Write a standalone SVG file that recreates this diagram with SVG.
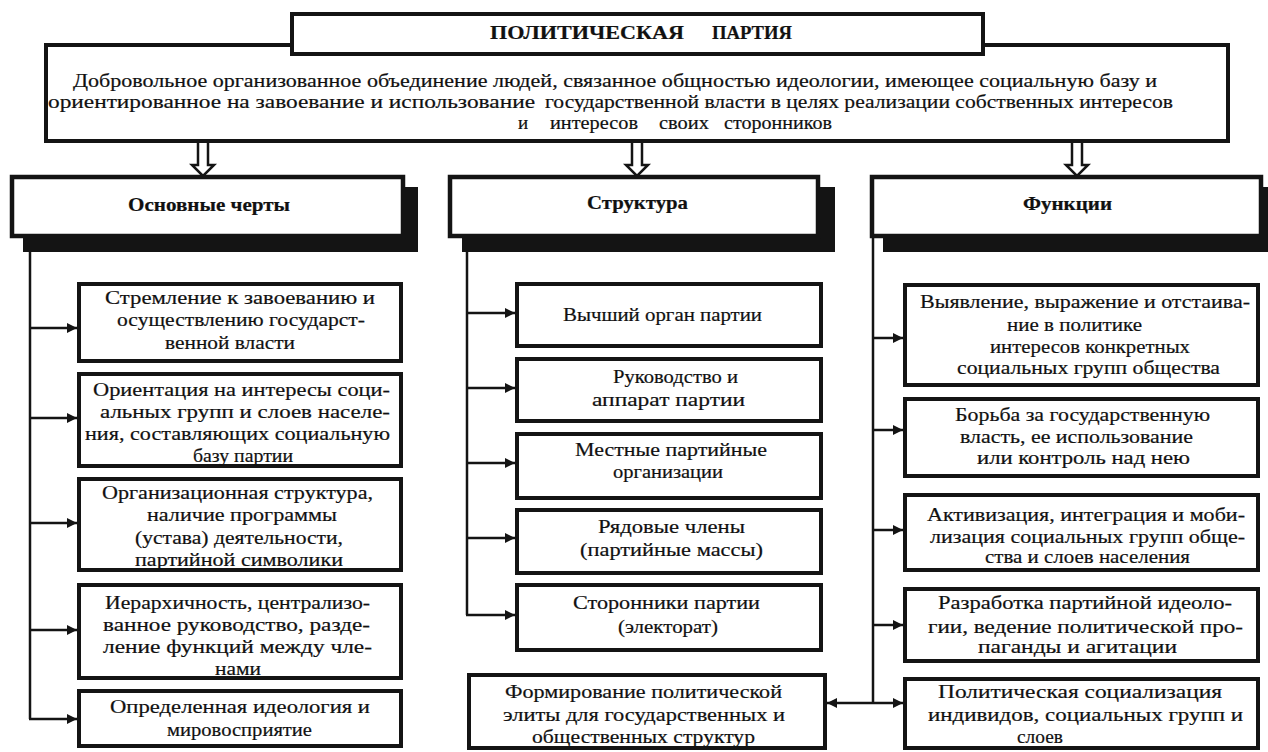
<svg xmlns="http://www.w3.org/2000/svg" width="1268" height="752" viewBox="0 0 1268 752">
<style>
.box{fill:#fff;stroke:#141414;stroke-width:4}
.hdr{fill:#fff;stroke:#141414;stroke-width:4.5}
.sh{fill:#141414}
.t{font-family:"Liberation Serif","Times New Roman",serif;font-size:19px;fill:#111;stroke:#111;stroke-width:0.2}
.b{font-weight:bold;font-size:18px}
.c{fill:none;stroke:#141414;stroke-width:2.5}
.da{fill:#fff;stroke:#141414;stroke-width:2.5;stroke-linejoin:miter}
</style>
<defs>
<marker id="ah" viewBox="0 0 10 10" refX="10" refY="5" markerWidth="11" markerHeight="10" markerUnits="userSpaceOnUse" orient="auto-start-reverse">
<path d="M0,0 L10,5 L0,10 z" fill="#141414"/>
</marker>
</defs>
<rect width="1268" height="752" fill="#fff"/>

<g id="definition">
<rect class="box" x="46" y="45" width="1182" height="96"/>
<text class="t" x="73" y="87" textLength="1084" lengthAdjust="spacingAndGlyphs">Добровольное организованное объединение людей, связанное общностью идеологии, имеющее социальную базу и</text>
<text class="t" x="48" y="108" textLength="487" lengthAdjust="spacingAndGlyphs">ориентированное на завоевание и использование</text>
<text class="t" x="545" y="108" textLength="628" lengthAdjust="spacingAndGlyphs">государственной власти в целях реализации собственных интересов</text>
<text class="t" x="518" y="129">и</text>
<text class="t" x="550" y="129" textLength="88" lengthAdjust="spacingAndGlyphs">интересов</text>
<text class="t" x="659" y="129" textLength="50" lengthAdjust="spacingAndGlyphs">своих</text>
<text class="t" x="724" y="129" textLength="108" lengthAdjust="spacingAndGlyphs">сторонников</text>
</g>
<g id="title">
<rect class="box" x="292" y="14" width="691" height="40"/>
<text class="t b" x="490" y="39" textLength="194" lengthAdjust="spacingAndGlyphs">ПОЛИТИЧЕСКАЯ</text>
<text class="t b" x="712" y="39" textLength="80" lengthAdjust="spacingAndGlyphs">ПАРТИЯ</text>
</g>

<g id="connectors">
<path class="da" d="M198,143 V165 H192 L203,176 L214,165 H208 V143"/>
<path class="da" d="M632,143 V165 H626 L637,176 L648,165 H642 V143"/>
<path class="da" d="M1072,143 V165 H1066 L1077,176 L1088,165 H1082 V143"/>
<path class="c" d="M30,250 V719"/>
<path class="c" d="M467,250 V615"/>
<path class="c" d="M873,238 V703"/>
<line class="c" x1="30" y1="328" x2="77" y2="328" marker-end="url(#ah)"/>
<line class="c" x1="30" y1="418" x2="77" y2="418" marker-end="url(#ah)"/>
<line class="c" x1="30" y1="523" x2="77" y2="523" marker-end="url(#ah)"/>
<line class="c" x1="30" y1="630" x2="77" y2="630" marker-end="url(#ah)"/>
<line class="c" x1="29" y1="719" x2="77" y2="719" marker-end="url(#ah)"/>
<line class="c" x1="467" y1="313" x2="515" y2="313" marker-end="url(#ah)"/>
<line class="c" x1="467" y1="388" x2="515" y2="388" marker-end="url(#ah)"/>
<line class="c" x1="467" y1="463" x2="515" y2="463" marker-end="url(#ah)"/>
<line class="c" x1="467" y1="538" x2="515" y2="538" marker-end="url(#ah)"/>
<line class="c" x1="466" y1="615" x2="515" y2="615" marker-end="url(#ah)"/>
<line class="c" x1="873" y1="338" x2="903" y2="338" marker-end="url(#ah)"/>
<line class="c" x1="873" y1="430" x2="903" y2="430" marker-end="url(#ah)"/>
<line class="c" x1="873" y1="530" x2="903" y2="530" marker-end="url(#ah)"/>
<line class="c" x1="873" y1="625" x2="903" y2="625" marker-end="url(#ah)"/>
<line class="c" x1="827" y1="703" x2="903" y2="703" marker-start="url(#ah)" marker-end="url(#ah)"/>
</g>

<g id="hdr-features">
<rect class="sh" x="23" y="187" width="395" height="65"/>
<rect class="hdr" x="12" y="177" width="391" height="59"/>
<text class="t b" x="128" y="211" textLength="162" lengthAdjust="spacingAndGlyphs">Основные черты</text>
</g>
<g id="hdr-structure">
<rect class="sh" x="462" y="187" width="373" height="65"/>
<rect class="hdr" x="450" y="177" width="368" height="59"/>
<text class="t b" x="587" y="209" textLength="101" lengthAdjust="spacingAndGlyphs">Структура</text>
</g>
<g id="hdr-functions">
<rect class="sh" x="883" y="187" width="395" height="65"/>
<rect class="hdr" x="872" y="177" width="389" height="59"/>
<text class="t b" x="1023" y="210" textLength="89" lengthAdjust="spacingAndGlyphs">Функции</text>
</g>

<g id="f1">
<rect class="box" x="79" y="284" width="322" height="77"/>
<text class="t" x="105" y="304" textLength="270" lengthAdjust="spacingAndGlyphs">Стремление к завоеванию и</text>
<text class="t" x="117" y="326" textLength="248" lengthAdjust="spacingAndGlyphs">осуществлению государст-</text>
<text class="t" x="165" y="349" textLength="130" lengthAdjust="spacingAndGlyphs">венной власти</text>
</g>
<g id="f2">
<rect class="box" x="79" y="374" width="322" height="92"/>
<text class="t" x="93" y="396" textLength="297" lengthAdjust="spacingAndGlyphs">Ориентация на интересы соци-</text>
<text class="t" x="100" y="418" textLength="290" lengthAdjust="spacingAndGlyphs">альных групп и слоев населе-</text>
<text class="t" x="85" y="440" textLength="305" lengthAdjust="spacingAndGlyphs">ния, составляющих социальную</text>
<text class="t" x="193" y="462" textLength="100" lengthAdjust="spacingAndGlyphs">базу партии</text>
</g>
<g id="f3">
<rect class="box" x="79" y="479" width="322" height="91"/>
<text class="t" x="102" y="499" textLength="271" lengthAdjust="spacingAndGlyphs">Организационная структура,</text>
<text class="t" x="147" y="521" textLength="190" lengthAdjust="spacingAndGlyphs">наличие программы</text>
<text class="t" x="135" y="544" textLength="208" lengthAdjust="spacingAndGlyphs">(устава) деятельности,</text>
<text class="t" x="135" y="566" textLength="208" lengthAdjust="spacingAndGlyphs">партийной символики</text>
</g>
<g id="f4">
<rect class="box" x="79" y="585" width="322" height="93"/>
<text class="t" x="105" y="609" textLength="265" lengthAdjust="spacingAndGlyphs">Иерархичность, централизо-</text>
<text class="t" x="103" y="631" textLength="267" lengthAdjust="spacingAndGlyphs">ванное руководство, разде-</text>
<text class="t" x="103" y="653" textLength="269" lengthAdjust="spacingAndGlyphs">ление функций между чле-</text>
<text class="t" x="215" y="675" textLength="46" lengthAdjust="spacingAndGlyphs">нами</text>
</g>
<g id="f5">
<rect class="box" x="79" y="691" width="322" height="55"/>
<text class="t" x="110" y="713" textLength="260" lengthAdjust="spacingAndGlyphs">Определенная идеология и</text>
<text class="t" x="167" y="736" textLength="145" lengthAdjust="spacingAndGlyphs">мировосприятие</text>
</g>

<g id="s1">
<rect class="box" x="517" y="284" width="304" height="62"/>
<text class="t" x="563" y="321" textLength="199" lengthAdjust="spacingAndGlyphs">Вычший орган партии</text>
</g>
<g id="s2">
<rect class="box" x="517" y="359" width="304" height="62"/>
<text class="t" x="613" y="383" textLength="125" lengthAdjust="spacingAndGlyphs">Руководство и</text>
<text class="t" x="592" y="406" textLength="153" lengthAdjust="spacingAndGlyphs">аппарат партии</text>
</g>
<g id="s3">
<rect class="box" x="517" y="434" width="304" height="64"/>
<text class="t" x="575" y="456" textLength="192" lengthAdjust="spacingAndGlyphs">Местные партийные</text>
<text class="t" x="613" y="478" textLength="110" lengthAdjust="spacingAndGlyphs">организации</text>
</g>
<g id="s4">
<rect class="box" x="517" y="510" width="304" height="63"/>
<text class="t" x="598" y="533" textLength="147" lengthAdjust="spacingAndGlyphs">Рядовые члены</text>
<text class="t" x="580" y="556" textLength="183" lengthAdjust="spacingAndGlyphs">(партийные массы)</text>
</g>
<g id="s5">
<rect class="box" x="517" y="585" width="304" height="65"/>
<text class="t" x="573" y="609" textLength="187" lengthAdjust="spacingAndGlyphs">Сторонники партии</text>
<text class="t" x="618" y="633" textLength="100" lengthAdjust="spacingAndGlyphs">(электорат)</text>
</g>
<g id="elite">
<rect class="box" x="469" y="675" width="356" height="73"/>
<text class="t" x="505" y="698" textLength="277" lengthAdjust="spacingAndGlyphs">Формирование политической</text>
<text class="t" x="503" y="721" textLength="282" lengthAdjust="spacingAndGlyphs">элиты для государственных и</text>
<text class="t" x="532" y="743" textLength="223" lengthAdjust="spacingAndGlyphs">общественных структур</text>
</g>

<g id="r1">
<rect class="box" x="905" y="285" width="353" height="100"/>
<text class="t" x="920" y="308" textLength="330" lengthAdjust="spacingAndGlyphs">Выявление, выражение и отстаива-</text>
<text class="t" x="1007" y="331" textLength="135" lengthAdjust="spacingAndGlyphs">ние в политике</text>
<text class="t" x="990" y="353" textLength="200" lengthAdjust="spacingAndGlyphs">интересов конкретных</text>
<text class="t" x="957" y="374" textLength="263" lengthAdjust="spacingAndGlyphs">социальных групп общества</text>
</g>
<g id="r2">
<rect class="box" x="905" y="399" width="353" height="77"/>
<text class="t" x="955" y="421" textLength="255" lengthAdjust="spacingAndGlyphs">Борьба за государственную</text>
<text class="t" x="960" y="443" textLength="233" lengthAdjust="spacingAndGlyphs">власть, ее использование</text>
<text class="t" x="977" y="464" textLength="213" lengthAdjust="spacingAndGlyphs">или контроль над нею</text>
</g>
<g id="r3">
<rect class="box" x="905" y="495" width="353" height="75"/>
<text class="t" x="927" y="521" textLength="318" lengthAdjust="spacingAndGlyphs">Активизация, интеграция и моби-</text>
<text class="t" x="930" y="543" textLength="315" lengthAdjust="spacingAndGlyphs">лизация социальных групп обще-</text>
<text class="t" x="985" y="563" textLength="205" lengthAdjust="spacingAndGlyphs">ства и слоев населения</text>
</g>
<g id="r4">
<rect class="box" x="905" y="589" width="353" height="72"/>
<text class="t" x="938" y="609" textLength="294" lengthAdjust="spacingAndGlyphs">Разработка партийной идеоло-</text>
<text class="t" x="928" y="633" textLength="315" lengthAdjust="spacingAndGlyphs">гии, ведение политической про-</text>
<text class="t" x="978" y="653" textLength="199" lengthAdjust="spacingAndGlyphs">паганды и агитации</text>
</g>
<g id="r5">
<rect class="box" x="905" y="679" width="353" height="69"/>
<text class="t" x="938" y="698" textLength="284" lengthAdjust="spacingAndGlyphs">Политическая социализация</text>
<text class="t" x="928" y="721" textLength="315" lengthAdjust="spacingAndGlyphs">индивидов, социальных групп и</text>
<text class="t" x="1017" y="743" textLength="46" lengthAdjust="spacingAndGlyphs">слоев</text>
</g>
</svg>
